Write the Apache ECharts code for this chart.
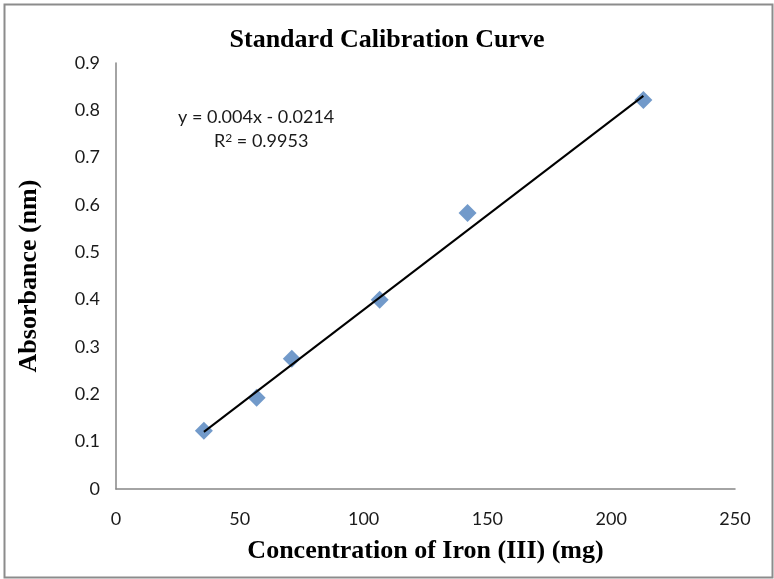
<!DOCTYPE html>
<html>
<head>
<meta charset="utf-8">
<script src="https://cdn.jsdelivr.net/npm/echarts@6/dist/echarts.min.js"></script>
<style>
html, body { margin: 0; padding: 0; background: #fff; }
#chart { width: 774px; height: 579px; }
</style>
</head>
<body>
<div id="chart"></div>
<script>
// concentration (mg) and absorbance readings
var concentration = [35.5, 56.8, 71, 106.5, 142, 213];
var absorbance = [0.123, 0.193, 0.275, 0.400, 0.583, 0.822];
// linear trendline y = slope*x + intercept
var slope = 0.004;
var intercept = -0.0214;
var xTicks = [0, 50, 100, 150, 200, 250];
var yTicks = [0, 0.1, 0.2, 0.3, 0.4, 0.5, 0.6, 0.7, 0.8, 0.9];

var points = concentration.map(function (x, i) { return [x, absorbance[i]]; });
var xFirst = concentration[0];
var xLast = concentration[concentration.length - 1];
var trend = [[xFirst, slope * xFirst + intercept], [xLast, slope * xLast + intercept]];

var serifBold = {
  fontFamily: 'Liberation Serif',
  fontWeight: 'bold',
  fontSize: 26,
  color: '#000'
};

var chart = echarts.init(document.getElementById('chart'));
var option = {
  animation: false,
  title: {
    text: 'Standard Calibration Curve',
    left: 'center',
    top: 22,
    textStyle: serifBold
  },
  grid: { left: 116, right: 39, top: 63, bottom: 90 },
  xAxis: {
    type: 'value',
    min: xTicks[0],
    max: xTicks[xTicks.length - 1],
    interval: 50,
    name: 'Concentration of Iron (III) (mg)',
    nameLocation: 'middle',
    nameGap: 49,
    nameTextStyle: serifBold,
    axisLine: { lineStyle: { color: '#868686', width: 1.5 } },
    axisTick: { show: false },
    splitLine: { show: false },
    axisLabel: { fontFamily: 'Lato', fontSize: 18, color: '#1a1a1a', margin: 21 }
  },
  yAxis: {
    type: 'value',
    min: yTicks[0],
    max: yTicks[yTicks.length - 1],
    interval: 0.1,
    name: 'Absorbance (nm)',
    nameLocation: 'middle',
    nameGap: 74,
    nameTextStyle: serifBold,
    axisLine: { show: true, lineStyle: { color: '#868686', width: 1.5 } },
    axisTick: { show: false },
    splitLine: { show: false },
    axisLabel: {
      fontFamily: 'Lato', fontSize: 18, color: '#1a1a1a', margin: 16,
      formatter: function (v) { return String(Math.round(v * 10) / 10); }
    }
  },
  graphic: [
    {
      type: 'rect',
      left: 2, top: 2,
      shape: { width: 768, height: 573 },
      style: { fill: 'none', stroke: '#8c8c8c', lineWidth: 2 },
      silent: true
    },
    {
      type: 'text',
      left: 178, top: 108,
      style: {
        text: 'y = 0.004x - 0.0214',
        font: '18px Lato',
        fill: '#1a1a1a'
      }
    },
    {
      type: 'text',
      left: 214, top: 132,
      style: {
        rich: { sup: { fontSize: 12, verticalAlign: 'top', fill: '#1a1a1a', fontFamily: 'Lato', padding: [0, 0, 7, 0] } },
        text: 'R{sup|2} = 0.9953',
        font: '18px Lato',
        fill: '#1a1a1a'
      }
    }
  ],
  series: [
    {
      type: 'line',
      data: trend,
      symbol: 'none',
      lineStyle: { color: '#000', width: 2 },
      z: 3
    },
    {
      type: 'scatter',
      data: points,
      symbol: 'diamond',
      symbolSize: 18,
      itemStyle: { color: '#4F81BD' },
      z: 2
    }
  ]
};
chart.setOption(option);
</script>
</body>
</html>
